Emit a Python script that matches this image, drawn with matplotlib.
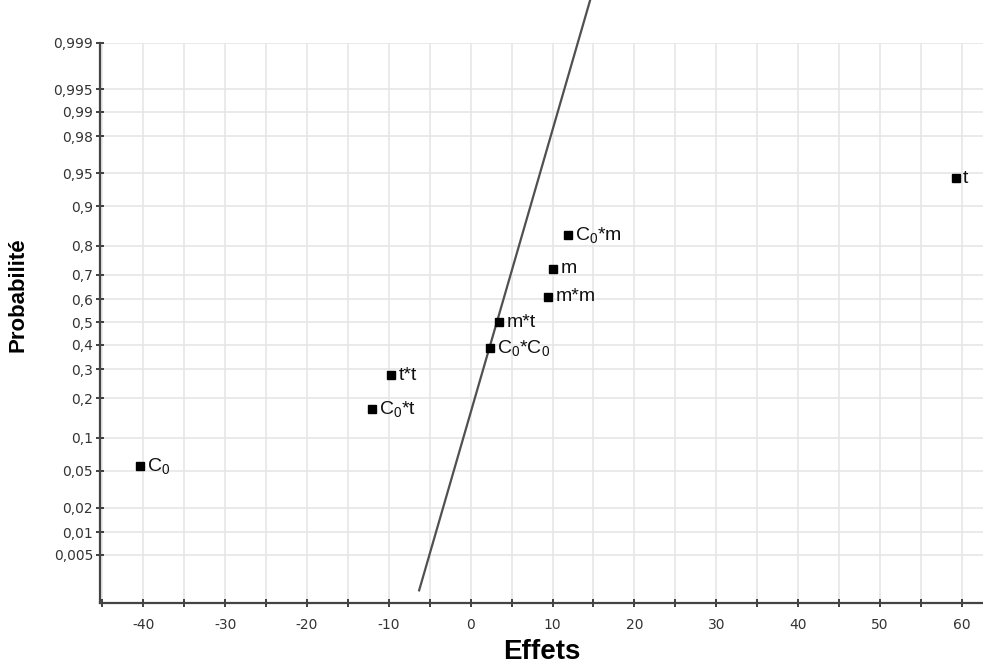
import numpy as np
import matplotlib
matplotlib.use("Agg")
import matplotlib.pyplot as plt
from statistics import NormalDist

plt.rcParams['font.family'] = ['Liberation Sans', 'DejaVu Sans']
plt.rcParams['mathtext.fontset'] = 'custom'
plt.rcParams['mathtext.rm'] = 'Liberation Sans'
plt.rcParams['mathtext.it'] = 'Liberation Sans'

# Data
labels = [r'C$_\mathrm{0}$', r'C$_\mathrm{0}$*t', 't*t', r'C$_\mathrm{0}$*C$_\mathrm{0}$',
          'm*t', 'm*m', 'm', r'C$_\mathrm{0}$*m', 't']
effects = [-40.4, -12.0, -9.7, 2.4, 3.5, 9.5, 10.1, 11.9, 59.3]
probs = [0.0556, 0.1667, 0.2778, 0.3889, 0.5, 0.6111, 0.7222, 0.8333, 0.9444]

line_mean = 3.2
line_sd = 3.2
line_x = [-6.3, 14.6]

ytick_vals = [0.005, 0.01, 0.02, 0.05, 0.1, 0.2, 0.3, 0.4, 0.5, 0.6, 0.7, 0.8,
              0.9, 0.95, 0.98, 0.99, 0.995, 0.999]
ytick_labels = ['0,005', '0,01', '0,02', '0,05', '0,1', '0,2', '0,3', '0,4', '0,5',
                '0,6', '0,7', '0,8', '0,9', '0,95', '0,98', '0,99', '0,995', '0,999']
xtick_major = [-40, -30, -20, -10, 0, 10, 20, 30, 40, 50, 60]

ND = NormalDist()

def fwd(p):
    p = np.clip(np.asarray(p, dtype=float), 1e-9, 1 - 1e-9)
    return np.vectorize(ND.inv_cdf)(p) if p.size else p

def inv(z):
    z = np.asarray(z, dtype=float)
    return np.vectorize(ND.cdf)(z) if z.size else z

fig = plt.figure(figsize=(9.83, 6.63), dpi=100)
ax = fig.add_axes([0.1017, 0.091, 0.8983, 0.8446])
ax.set_yscale('function', functions=(fwd, inv))

ax.set_xlim(-45.3, 62.6)
ax.set_ylim(ND.cdf(-3.105), 0.999)

# line
lnd = NormalDist(line_mean, line_sd)
ax.plot(line_x, [lnd.cdf(v) for v in line_x], color='#505050', lw=1.6, zorder=3,
        clip_on=False)

ax.plot(effects, probs, 's', color='black', ms=5.8, zorder=4)
for x, p, t in zip(effects, probs, labels):
    ax.annotate(t, (x, p), xytext=(5, 0), textcoords='offset points',
                ha='left', va='center', fontsize=14, color='#111111')

ax.set_yticks(ytick_vals)
ax.set_yticklabels(ytick_labels)
ax.yaxis.set_minor_locator(matplotlib.ticker.NullLocator())
ax.set_xticks(xtick_major)
ax.set_xticklabels([str(v) for v in xtick_major])
ax.set_xticks(np.arange(-45, 62, 5), minor=True)

ax.grid(True, which='major', axis='y', color='#e6e6e6', lw=1.2)
ax.grid(True, which='both', axis='x', color='#e6e6e6', lw=1.2)
ax.set_axisbelow(True)

for s in ['top', 'right']:
    ax.spines[s].set_visible(False)
for s in ['left', 'bottom']:
    ax.spines[s].set_color('#444444')
    ax.spines[s].set_linewidth(1.6)

ax.tick_params(axis='both', which='both', direction='inout', length=6, width=1.3,
               color='#333333', labelcolor='#333333')
for lab in ax.get_xticklabels() + ax.get_yticklabels():
    lab.set_family(['DejaVu Sans'])
    lab.set_fontsize(10)
ax.tick_params(axis='x', pad=8)
ax.tick_params(axis='y', pad=2)

ax.set_xlabel('Effets', fontsize=20, fontweight='bold', labelpad=5)
ax.set_ylabel('Probabilité', fontsize=16, fontweight='bold')
ax.yaxis.set_label_coords(-0.081, 0.55)

fig.savefig('out.png', dpi=100)
